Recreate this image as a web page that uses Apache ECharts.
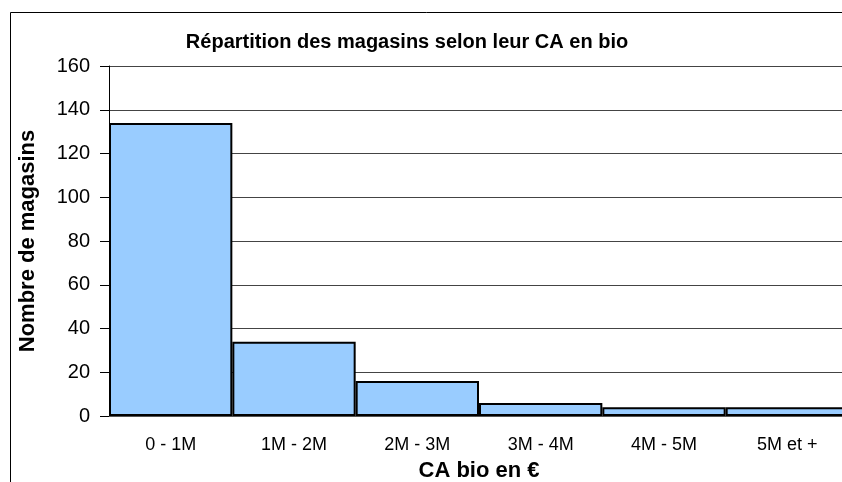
<!DOCTYPE html>
<html>
<head>
<meta charset="utf-8">
<script src="https://cdn.jsdelivr.net/npm/echarts@6/dist/echarts.min.js"></script>
<style>
html,body{margin:0;padding:0;background:#fff;}
#chart{width:842px;height:482px;}
</style>
</head>
<body>
<div id="chart"></div>
<script>
// tranches de CA bio
var categories = ['0 - 1M', '1M - 2M', '2M - 3M', '3M - 4M', '4M - 5M', '5M et +'];
// nombre de magasins par tranche
var magasins = [134, 34, 16, 6, 4, 4];
var yTicks = [0, 20, 40, 60, 80, 100, 120, 140, 160];

var chart = echarts.init(document.getElementById('chart'));
var police = 'Liberation Sans, Arial, sans-serif';

chart.setOption({
	animation: false,
	backgroundColor: '#fff',
	title: {
		text: 'Répartition des magasins selon leur CA en bio',
		left: 402, top: 27, textAlign: 'center',
		textStyle: {fontFamily: police, fontSize: 20, fontWeight: 'bold', color: '#000'}
	},
	graphic: [{
		type: 'rect', shape: {x: 10.5, y: 12.5, width: 900, height: 600},
		style: {fill: 'none', stroke: '#000', lineWidth: 1}, silent: true, z: -1
	}],
	grid: {left: 109, top: 66, right: -7, bottom: 66, containLabel: false, outerBoundsMode: 'none'},
	xAxis: {
		type: 'category',
		data: categories,
		name: 'CA bio en €',
		nameLocation: 'middle',
		nameGap: 44,
		nameTextStyle: {fontFamily: police, fontSize: 22, fontWeight: 'bold', color: '#000'},
		axisLine: {lineStyle: {color: '#555', width: 1}},
		axisTick: {show: false},
		axisLabel: {fontFamily: police, fontSize: 18, color: '#000', margin: 20}
	},
	yAxis: {
		type: 'value',
		min: 0, max: 160, interval: 20,
		name: 'Nombre de magasins',
		nameLocation: 'middle',
		nameGap: 70,
		nameTextStyle: {fontFamily: police, fontSize: 22, fontWeight: 'bold', color: '#000'},
		axisLine: {show: true, lineStyle: {color: '#000', width: 1}},
		axisTick: {show: true, length: 9, lineStyle: {color: '#000'}},
		axisLabel: {fontFamily: police, fontSize: 20, color: '#000', margin: 19},
		splitLine: {show: true, lineStyle: {color: '#444', width: 1}}
	},
	series: [{
		type: 'bar',
		data: magasins,
		barWidth: '100%',
		barCategoryGap: 0,
		itemStyle: {color: '#99CCFF', borderColor: '#000', borderWidth: 2}
	}]
});
</script>
</body>
</html>
